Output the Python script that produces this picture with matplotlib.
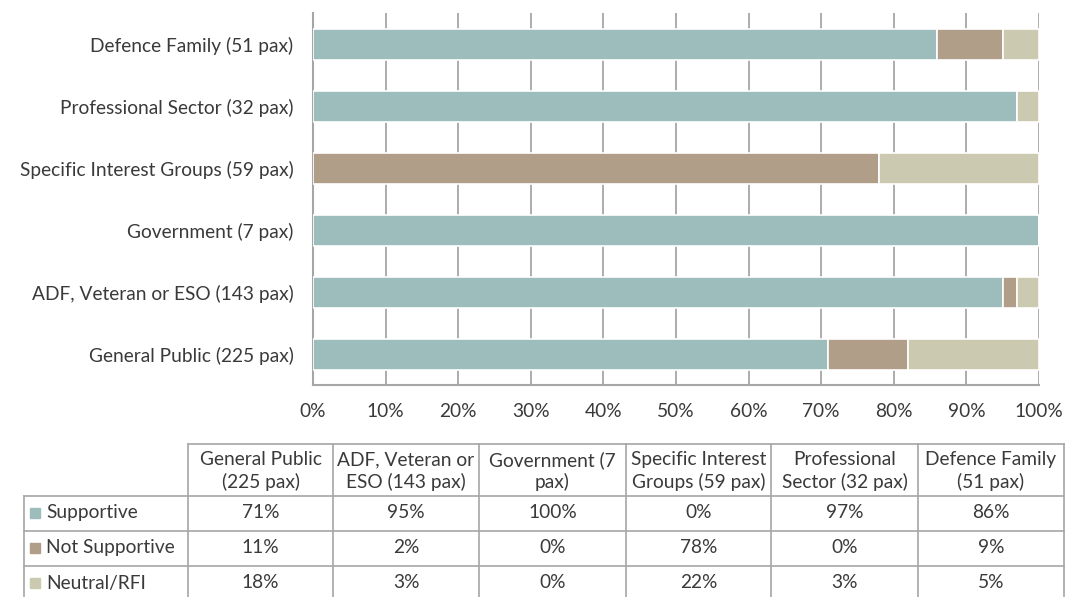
import numpy as np
import matplotlib
matplotlib.use("Agg")
import matplotlib.pyplot as plt
from matplotlib.patches import Rectangle

plt.rcParams['font.family'] = ['Lato', 'DejaVu Sans']

# data, in the order of the table columns
groups = ["General Public (225 pax)", "ADF, Veteran or ESO (143 pax)",
          "Government (7 pax)", "Specific Interest Groups (59 pax)",
          "Professional Sector (32 pax)", "Defence Family (51 pax)"]
table_headers = ["General Public\n(225 pax)", "ADF, Veteran or\nESO (143 pax)",
                 "Government (7\npax)", "Specific Interest\nGroups (59 pax)",
                 "Professional\nSector (32 pax)", "Defence Family\n(51 pax)"]
series = ["Supportive", "Not Supportive", "Neutral/RFI"]
supportive = [71, 95, 100, 0, 97, 86]
not_supportive = [11, 2, 0, 78, 0, 9]
neutral = [18, 3, 0, 22, 3, 5]
colors = ["#9dbdbc", "#b09e88", "#cbc9b0"]
text_col = "#3a3a3a"
line_col = "#a6a6a6"
fs = 13.8

W, H = 1065, 597
fig = plt.figure(figsize=(W / 100, H / 100), dpi=100)

# ---- stacked bars ----
ax = fig.add_axes([313 / W, 1 - 385 / H, 726 / W, 372 / H])
y = np.arange(len(groups))
left = np.zeros(len(groups))
for vals, col, name in zip([supportive, not_supportive, neutral], colors, series):
    ax.barh(y, vals, left=left, height=0.5, color=col, edgecolor="white",
            linewidth=1.2, label=name, zorder=3)
    left += np.array(vals)

ax.set_xlim(0, 100)
ax.set_ylim(-0.5, len(groups) - 0.5)
ax.set_xticks(np.arange(0, 101, 10))
ax.set_xticklabels([f"{v}%" for v in range(0, 101, 10)])
ax.set_yticks(y)
ax.set_yticklabels(groups)
ax.grid(axis="x", color=line_col, linewidth=1.3, zorder=0)
ax.tick_params(length=0, labelsize=fs, labelcolor=text_col)
ax.tick_params(axis="x", pad=13)
ax.tick_params(axis="y", pad=14)
for s in ["top", "right"]:
    ax.spines[s].set_visible(False)
for s in ["left", "bottom"]:
    ax.spines[s].set_color(line_col)
    ax.spines[s].set_linewidth(1.5)

# ---- data table ----
tab = fig.add_axes([0, 0, 1, 1])
tab.set_xlim(0, W)
tab.set_ylim(H, 0)
tab.axis("off")

col_x = [188, 333, 479, 626, 771, 918, 1064]
row_y = [444, 496, 531, 566, 601]
lbl_x0 = 24
lw = 1.2

# borders
tab.plot([col_x[0], col_x[-1]], [row_y[0], row_y[0]], color=line_col, lw=lw)
for cx in col_x:
    tab.plot([cx, cx], [row_y[0], row_y[-1]], color=line_col, lw=lw)
for ry in row_y[1:]:
    tab.plot([lbl_x0, col_x[-1]], [ry, ry], color=line_col, lw=lw)
tab.plot([lbl_x0, lbl_x0], [row_y[1], row_y[-1]], color=line_col, lw=lw)

for j, hdr in enumerate(table_headers):
    cx = (col_x[j] + col_x[j + 1]) / 2
    tab.text(cx, (row_y[0] + row_y[1]) / 2 + 1, hdr, ha="center", va="center",
             fontsize=fs, color=text_col, linespacing=1.3)

for i, (name, vals) in enumerate(zip(series, [supportive, not_supportive, neutral])):
    cy = (row_y[i + 1] + row_y[i + 2]) / 2 - 1 if i < 2 else 583
    tab.add_patch(Rectangle((30, cy - 5), 10, 10, color=colors[i]))
    tab.text(46, cy, name, ha="left", va="center", fontsize=fs, color=text_col)
    for j, v in enumerate(vals):
        cx = (col_x[j] + col_x[j + 1]) / 2
        tab.text(cx, cy, f"{v}%", ha="center", va="center",
                 fontsize=fs, color=text_col)

fig.savefig("out.png", dpi=100)
